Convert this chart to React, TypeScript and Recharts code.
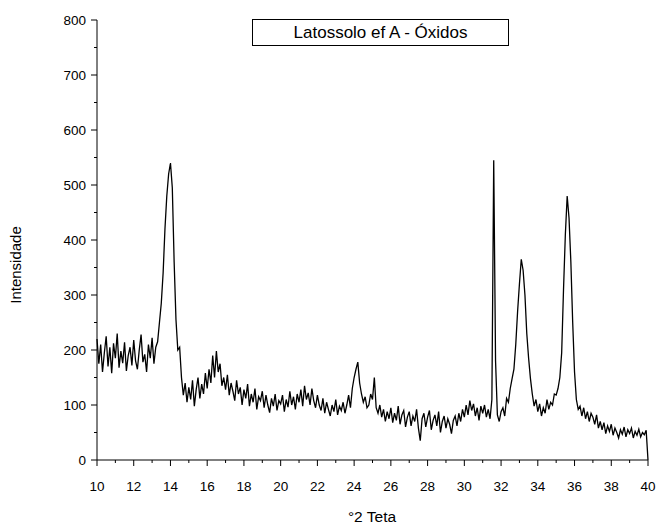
import React from 'react';
import { LineChart, Line, XAxis, YAxis, Label } from 'recharts';

// intensity every 0.1 °2θ, from 10.0 to 40.0
const intensity: number[] = [
  220, 175, 210, 160, 195, 225, 170, 205, 158, 212,
  185, 230, 168, 198, 176, 214, 162, 190, 205, 172,
  218, 180, 165, 200, 228, 178, 192, 160, 210, 185,
  222, 175, 205, 215, 250, 285, 340, 420, 480, 520,
  540, 495, 360, 255, 200, 205, 150, 118, 140, 105,
  132, 110, 145, 98, 128, 150, 112, 138, 120, 158,
  130, 165, 140, 190, 150, 198, 160, 175, 135, 150,
  128, 155, 118, 140, 125, 108, 145, 120, 132, 100,
  128, 112, 138, 98, 120, 105, 130, 92, 115, 108,
  125, 95, 118, 100, 86, 112, 98, 120, 90, 108,
  102, 118, 88, 110, 96, 125, 100, 115, 92, 120,
  105, 128, 98, 135, 110, 122, 100, 130, 108, 95,
  118, 100, 90, 112, 85, 105, 92, 80, 100, 88,
  110, 82, 98, 90, 105, 85, 100, 118, 95, 130,
  150, 165, 178, 140, 120, 105, 115, 95, 100, 120,
  110, 150, 95, 85, 100, 78, 92, 70, 88, 75,
  95, 68, 85, 72, 98, 65, 82, 90, 60, 78,
  88, 62, 80, 70, 92, 58, 35, 75, 85, 60,
  78, 90, 55, 72, 82, 62, 88, 50, 70, 80,
  58, 75, 65, 48, 72, 80, 62, 85, 70, 92,
  78, 100, 82, 108, 90, 102, 80, 95, 72, 98,
  85, 100, 78, 92, 75, 110, 545, 180, 82, 70,
  88, 95, 80, 112, 105, 130, 148, 165, 210, 270,
  320, 365, 345, 300, 230, 185, 148, 120, 98, 110,
  88, 102, 80, 95, 85, 110, 92, 105, 100, 120,
  118, 130, 150, 195, 310, 410, 480, 440, 360, 250,
  160, 110, 92, 98, 80, 95, 75, 88, 70, 85,
  78, 65, 82, 58, 70, 55, 68, 48, 62, 52,
  65, 45, 58, 50, 40, 55, 47, 60, 42, 55,
  48, 58, 40, 52, 45, 56, 42, 50, 46, 54,
  0,
];

const twoTheta = intensity.map((_, i) => Math.round((10 + i * 0.1) * 10) / 10);
const data = intensity.map((v, i) => ({ x: twoTheta[i], y: v }));

const xTicks = Array.from({ length: 31 }, (_, i) => 10 + i);
const yTicks = Array.from({ length: 17 }, (_, i) => i * 50);

const FONT = '"Liberation Sans", Arial, sans-serif';

function XTick({ x, y, payload }: any) {
  const major = payload.value % 2 === 0;
  return (
    <g>
      <line x1={x} x2={x} y1={y} y2={y + (major ? 6 : 3)} stroke="#000" />
      {major && (
        <text x={x} y={y + 31} textAnchor="middle" fontSize={13.5} fontFamily={FONT} fill="#000">
          {payload.value}
        </text>
      )}
    </g>
  );
}

function YTick({ x, y, payload }: any) {
  const major = payload.value % 100 === 0;
  return (
    <g>
      <line x1={x} x2={x - (major ? 6 : 3)} y1={y} y2={y} stroke="#000" />
      {major && (
        <text x={x - 11} y={y + 5} textAnchor="end" fontSize={13.5} fontFamily={FONT} fill="#000">
          {payload.value}
        </text>
      )}
    </g>
  );
}

export default function App() {
  return (
    <div style={{ position: 'absolute', left: 0, top: 0, width: 658, height: 527, background: '#fff' }}>
      <LineChart width={658} height={527} data={data} margin={{ top: 20, right: 10, left: 0, bottom: 0 }}>
        <XAxis
          dataKey="x"
          type="number"
          domain={[10, 40]}
          ticks={xTicks}
          interval={0}
          tickSize={0}
          tickMargin={0}
          tickLine={false}
          tick={<XTick />}
          height={67}
          stroke="#000"
        >
          <Label
            content={() => (
              <text x={372} y={522} textAnchor="middle" fontSize={15.5} fontFamily={FONT} fill="#000">
                °2 Teta
              </text>
            )}
          />
        </XAxis>
        <YAxis
          type="number"
          domain={[0, 800]}
          ticks={yTicks}
          interval={0}
          tickSize={0}
          tickMargin={0}
          tickLine={false}
          tick={<YTick />}
          width={97}
          stroke="#000"
        >
          <Label
            content={() => (
              <text
                x={21}
                y={265}
                transform="rotate(-90 21 265)"
                textAnchor="middle"
                fontSize={15}
                fontFamily={FONT}
                fill="#000"
              >
                Intensidade
              </text>
            )}
          />
        </YAxis>
        <Line
          dataKey="y"
          type="linear"
          stroke="#000"
          strokeWidth={1.3}
          dot={false}
          isAnimationActive={false}
        />
      </LineChart>
      <div
        style={{
          position: 'absolute',
          left: 252,
          top: 19,
          width: 255,
          height: 25,
          border: '1px solid #000',
          fontFamily: FONT,
          fontSize: 17,
          lineHeight: '25px',
          textAlign: 'center',
          color: '#000',
        }}
      >
        Latossolo ef A - Óxidos
      </div>
    </div>
  );
}
